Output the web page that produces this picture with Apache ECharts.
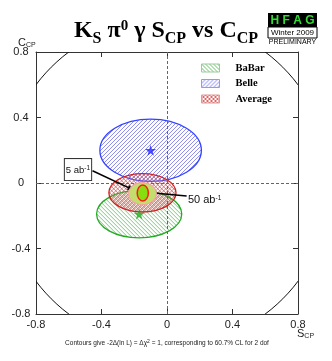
<!DOCTYPE html>
<html>
<head>
<meta charset="utf-8">
<script src="https://cdn.jsdelivr.net/npm/echarts@6/dist/echarts.min.js"></script>
<style>
  html, body { margin: 0; padding: 0; background: #fff; }
  #chart { width: 332px; height: 361px; }
</style>
</head>
<body>
<div id="chart"></div>
<script>
// measurements: [S, C, sigma S, sigma C]
const babar = [-0.17, -0.19, 0.26, 0.145];
const belle = [-0.10, 0.20, 0.31, 0.19];
const average = [-0.15, -0.06, 0.205, 0.117];
// projected errors for 5 ab^-1 and 50 ab^-1
const proj5 = [-0.15, -0.065, 0.085, 0.067];
const proj50 = [-0.148, -0.061, 0.034, 0.049];
// physical boundary S^2 + C^2 = 1
const physBound = [0, 0, 1, 1];

const seriesNames = ['BaBar', 'Belle', 'Average'];
const axisTicks = [-0.8, -0.4, 0, 0.4, 0.8];

// annotation anchors [S, C]
const note5Pos = [-0.5435, 0.082];
const note50Pos = [0.128, -0.104];
const arrow5 = [[-0.455, 0.075], [-0.216, -0.037]];
const arrow50 = [[0.12, -0.08], [-0.113, -0.058]];

const serif = '"Liberation Serif", "Times New Roman", serif';
const sans = '"Liberation Sans", Arial, sans-serif';

// small canvas patterns, only used for the legend swatches
function hatch(color, dirs) {
  const s = 4;
  const cv = document.createElement('canvas');
  cv.width = s; cv.height = s;
  const ctx = cv.getContext('2d');
  ctx.strokeStyle = color;
  ctx.lineWidth = 0.9;
  dirs.forEach(function (d) {
    ctx.beginPath();
    if (d === '\\') {
      ctx.moveTo(-1, -1); ctx.lineTo(s + 1, s + 1);
      ctx.moveTo(-1, s - 1); ctx.lineTo(1, s + 1);
      ctx.moveTo(s - 1, -1); ctx.lineTo(s + 1, 1);
    } else {
      ctx.moveTo(-1, s + 1); ctx.lineTo(s + 1, -1);
      ctx.moveTo(-1, 1); ctx.lineTo(1, -1);
      ctx.moveTo(s - 1, s + 1); ctx.lineTo(s + 1, s - 1);
    }
    ctx.stroke();
  });
  return { image: cv, repeat: 'repeat' };
}

// hatched ellipse: diagonal lines clipped by the ellipse, outline on top
function hatchedEllipse(name, d, hatchColor, dirs, stroke, lw, z) {
  return {
    name: name,
    type: 'custom',
    z: z,
    data: [d],
    itemStyle: { color: hatch(hatchColor, dirs), borderColor: stroke, borderWidth: lw },
    renderItem: function (params, api) {
      const c = api.coord([api.value(0), api.value(1)]);
      const sz = api.size([api.value(2), api.value(3)]);
      const cx = c[0], cy = c[1], rx = sz[0], ry = sz[1];
      const h = 2 * ry;
      const lines = [];
      dirs.forEach(function (dir) {
        for (let x = cx - rx - h - 4; x <= cx + rx + 4; x += 4) {
          lines.push({
            type: 'line',
            shape: dir === '/'
              ? { x1: x, y1: cy + ry, x2: x + h, y2: cy - ry }
              : { x1: x, y1: cy - ry, x2: x + h, y2: cy + ry },
            style: { stroke: hatchColor, lineWidth: 0.8 }
          });
        }
      });
      const shape = { cx: cx, cy: cy, rx: rx, ry: ry };
      return {
        type: 'group',
        children: [
          { type: 'group', children: lines, clipPath: { type: 'ellipse', shape: shape } },
          { type: 'ellipse', shape: shape, style: { fill: 'none', stroke: stroke, lineWidth: lw } }
        ]
      };
    }
  };
}

function filledEllipse(name, d, fill, stroke, lw, z) {
  return {
    name: name,
    type: 'custom',
    z: z,
    data: [d],
    renderItem: function (params, api) {
      const c = api.coord([api.value(0), api.value(1)]);
      const sz = api.size([api.value(2), api.value(3)]);
      return {
        type: 'ellipse',
        shape: { cx: c[0], cy: c[1], rx: sz[0], ry: sz[1] },
        style: { fill: fill, stroke: stroke, lineWidth: lw }
      };
    }
  };
}

const axisCommon = {
  type: 'value', min: -0.8, max: 0.8, interval: 0.4,
  axisLine: { show: true, onZero: false, lineStyle: { color: '#333', width: 1 } },
  axisTick: { show: true, inside: true, length: 5, lineStyle: { color: '#333' } },
  splitLine: { show: false }
};

const chart = echarts.init(document.getElementById('chart'));

const option = {
  animation: false,
  grid: { left: 36, top: 52, width: 262, height: 262 },
  legend: {
    orient: 'vertical',
    left: 201,
    top: 62,
    padding: 0,
    itemWidth: 18,
    itemHeight: 8,
    itemGap: 3.5,
    icon: 'rect',
    data: [
      { name: 'BaBar', itemStyle: { borderColor: '#99cc99', borderWidth: 1 } },
      { name: 'Belle', itemStyle: { borderColor: '#9999dd', borderWidth: 1 } },
      { name: 'Average', itemStyle: { borderColor: '#dd9999', borderWidth: 1 } }
    ],
    textStyle: {
      fontFamily: serif, fontWeight: 'bold', fontSize: 10.5,
      color: '#000', lineHeight: 12, padding: [0, 0, 0, 11]
    }
  },
  xAxis: [
    Object.assign({}, axisCommon, {
      position: 'bottom',
      axisLabel: {
        margin: 5, color: '#222', fontFamily: sans, fontSize: 11,
        formatter: function (v) { return String(v); }
      }
    }),
    Object.assign({}, axisCommon, { position: 'top', axisLabel: { show: false } })
  ],
  yAxis: [
    Object.assign({}, axisCommon, {
      position: 'left',
      axisLabel: {
        margin: 15, align: 'center', color: '#222', fontFamily: sans, fontSize: 11,
        formatter: function (v) { return String(v); }
      }
    }),
    Object.assign({}, axisCommon, { position: 'right', axisLabel: { show: false } })
  ],
  series: [
    {
      name: 'boundary',
      type: 'custom',
      z: 1,
      data: [physBound],
      renderItem: function (params, api) {
        const c = api.coord([api.value(0), api.value(1)]);
        const sz = api.size([api.value(2), api.value(3)]);
        const cs = params.coordSys;
        return {
          type: 'group',
          clipPath: { type: 'rect', shape: { x: cs.x, y: cs.y, width: cs.width, height: cs.height } },
          children: [{
            type: 'ellipse',
            shape: { cx: c[0], cy: c[1], rx: sz[0], ry: sz[1] },
            style: { fill: 'none', stroke: '#111', lineWidth: 1 }
          }]
        };
      }
    },
    hatchedEllipse(seriesNames[0], babar, '#55bb55', ['\\'], '#22aa22', 1.3, 3),
    hatchedEllipse(seriesNames[1], belle, '#7070f0', ['/'], '#3344ff', 1.3, 3),
    hatchedEllipse(seriesNames[2], average, '#dd5555', ['\\', '/'], '#cc2222', 1.3, 4),
    {
      name: 'stars',
      type: 'scatter',
      z: 5,
      symbol: 'path://M50,0 L61,35 L98,35 L68,57 L79,91 L50,70 L21,91 L32,57 L2,35 L39,35 Z',
      symbolSize: 11,
      data: [
        { value: [belle[0], belle[1]], itemStyle: { color: '#2222ff' } },
        { value: [babar[0], babar[1]], itemStyle: { color: '#22aa22' } }
      ],
      markLine: {
        silent: true,
        symbol: ['none', 'none'],
        label: { show: false },
        data: [
          { xAxis: 0, lineStyle: { color: '#e03030', type: [3, 2], width: 1 } },
          { yAxis: 0, lineStyle: { color: '#e03030', type: [3, 2], width: 1 } },
          [
            { coord: arrow5[0], symbol: 'none', lineStyle: { color: '#000', type: 'solid', width: 1.5 } },
            { coord: arrow5[1], symbol: 'triangle', symbolSize: [5, 8] }
          ],
          [
            { coord: arrow50[0], symbol: 'none', lineStyle: { color: '#000', type: 'solid', width: 1.5 } },
            { coord: arrow50[1], symbol: 'triangle', symbolSize: [5, 8] }
          ]
        ]
      }
    },
    filledEllipse('5 ab-1', proj5, '#c4de6e', '#f3a4a4', 1.2, 6),
    filledEllipse('50 ab-1', proj50, '#88dd11', '#ff1a1a', 1.5, 7),
    {
      name: 'notes',
      type: 'custom',
      z: 8,
      data: [
        [note5Pos[0], note5Pos[1], 0],
        [note50Pos[0], note50Pos[1], 1]
      ],
      renderItem: function (params, api) {
        const c = api.coord([api.value(0), api.value(1)]);
        const boxed = api.value(2) === 0;
        return {
          type: 'text',
          x: c[0], y: c[1],
          style: {
            text: boxed ? '5 ab{sup|-1}' : '50 ab{sup|-1}',
            fontFamily: sans, fontSize: boxed ? 9.5 : 11, fill: '#111',
            align: boxed ? 'center' : 'left',
            verticalAlign: 'middle',
            backgroundColor: boxed ? '#fff' : 'transparent',
            borderColor: boxed ? '#333' : 'transparent',
            borderWidth: boxed ? 1 : 0,
            padding: boxed ? [6, 1, 5, 1] : 0,
            rich: {
              sup: { fontFamily: sans, fontSize: 6.5, verticalAlign: 'top', fill: '#111' }
            }
          }
        };
      }
    }
  ],
  graphic: [
    {
      type: 'text', left: 'center', top: 15, z: 10,
      style: {
        text: '{b|K}{s|S}{b| π}{p|0}{b| γ S}{s|CP}{b| vs C}{s|CP}',
        fill: '#000',
        rich: {
          b: { fontFamily: serif, fontWeight: 'bold', fontSize: 24, lineHeight: 32, fill: '#000' },
          s: { fontFamily: serif, fontWeight: 'bold', fontSize: 16, lineHeight: 16, verticalAlign: 'bottom', fill: '#000' },
          p: { fontFamily: serif, fontWeight: 'bold', fontSize: 15, lineHeight: 15, verticalAlign: 'top', padding: [4, 0, 0, 0], fill: '#000' }
        }
      }
    },
    { type: 'rect', shape: { x: 268, y: 13, width: 49, height: 14 }, style: { fill: '#000' }, z: 10 },
    {
      type: 'text', x: 292.5, y: 20.5, z: 11,
      style: { text: 'H F A G', fill: '#33dd33', fontFamily: sans, fontWeight: 'bold', fontSize: 12, align: 'center', verticalAlign: 'middle' }
    },
    { type: 'rect', shape: { x: 268, y: 27, width: 49, height: 11 }, style: { fill: '#fff', stroke: '#000', lineWidth: 1 }, z: 10 },
    {
      type: 'text', x: 292.5, y: 32.8, z: 11,
      style: { text: 'Winter 2009', fill: '#000', fontFamily: sans, fontSize: 8, align: 'center', verticalAlign: 'middle' }
    },
    {
      type: 'text', x: 292.5, y: 42, z: 11,
      style: { text: 'PRELIMINARY', fill: '#000', fontFamily: sans, fontSize: 7, align: 'center', verticalAlign: 'middle' }
    },
    {
      type: 'text', x: 18, y: 36, z: 10,
      style: {
        text: '{m|C}{s|CP}',
        rich: {
          m: { fontFamily: sans, fontSize: 11, fill: '#222', lineHeight: 13 },
          s: { fontFamily: sans, fontSize: 7, fill: '#222', lineHeight: 8, verticalAlign: 'bottom' }
        }
      }
    },
    {
      type: 'text', x: 297, y: 327, z: 10,
      style: {
        text: '{m|S}{s|CP}',
        rich: {
          m: { fontFamily: sans, fontSize: 11, fill: '#222', lineHeight: 13 },
          s: { fontFamily: sans, fontSize: 7, fill: '#222', lineHeight: 8, verticalAlign: 'bottom' }
        }
      }
    },
    {
      type: 'text', x: 167, y: 343, z: 10,
      style: {
        text: 'Contours give -2Δ(ln L) = Δχ{sup|2} = 1, corresponding to 60.7% CL for 2 dof',
        fontFamily: sans, fontSize: 6.5, fill: '#222', align: 'center', verticalAlign: 'middle',
        rich: { sup: { fontFamily: sans, fontSize: 5, fill: '#222', verticalAlign: 'top' } }
      }
    }
  ]
};

chart.setOption(option);
</script>
</body>
</html>
